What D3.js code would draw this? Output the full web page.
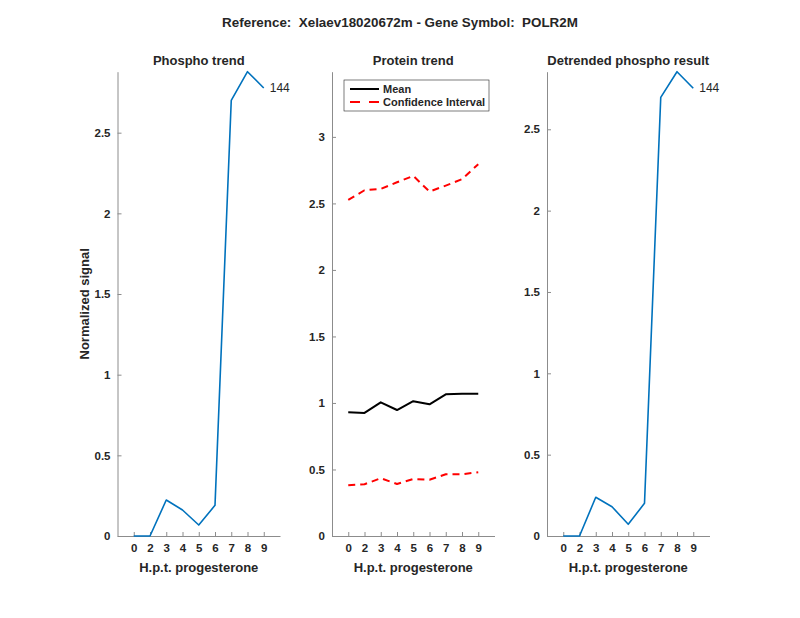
<!DOCTYPE html>
<html>
<head>
<meta charset="utf-8">
<script src="https://cdn.jsdelivr.net/npm/d3@7/dist/d3.min.js"></script>
<style>
  body { margin: 0; background: #fff; }
  text { font-family: "Liberation Sans", Arial, Helvetica, sans-serif; fill: #262626; }
</style>
</head>
<body>
<div id="chart"></div>
<script>
// time points (h post progesterone), shown as categories 1..9
var timeLabels = ['0', '2', '3', '4', '5', '6', '7', '8', '9'];
var phospho = [0, 0, 0.223, 0.161, 0.068, 0.19, 2.70, 2.878, 2.777];
var proteinMean = [0.93, 0.925, 1.005, 0.947, 1.013, 0.99, 1.065, 1.07, 1.07];
var ciUpper = [2.526, 2.599, 2.609, 2.659, 2.707, 2.589, 2.634, 2.682, 2.795];
var ciLower = [0.381, 0.389, 0.434, 0.391, 0.429, 0.423, 0.464, 0.464, 0.479];
var detrended = [0, 0, 0.238, 0.18, 0.072, 0.201, 2.696, 2.854, 2.752];
var yTicks = [0, 0.5, 1, 1.5, 2, 2.5, 3];
var peptideId = '144';

(function () {
  var W = 800, H = 618;
  var yTop = 71.7, yBot = 536, pw = 162.5;
  var svg = d3.select('#chart').append('svg').attr('width', W).attr('height', H);

  svg.append('text').attr('x', 400).attr('y', 27).attr('text-anchor', 'middle')
    .attr('font-size', 13.4).attr('font-weight', 'bold').style('white-space', 'pre')
    .text('Reference:  Xelaev18020672m - Gene Symbol:  POLR2M');

  function panel(x0, title, ymax) {
    var g = svg.append('g').attr('transform', 'translate(' + x0 + ',0)');
    var x = d3.scaleLinear().domain([0, 10]).range([0, pw]);
    var y = d3.scaleLinear().domain([0, ymax]).range([yBot, yTop]);

    var xa = g.append('g').attr('transform', 'translate(0,' + yBot + ')')
      .call(d3.axisBottom(x).tickValues(d3.range(1, 10)).tickSizeInner(-4).tickSizeOuter(0)
        .tickPadding(8).tickFormat(function (d) { return timeLabels[d - 1]; }));
    var ya = g.append('g')
      .call(d3.axisLeft(y).tickValues(yTicks.filter(function (t) { return t <= ymax; }))
        .tickSizeInner(-4).tickSizeOuter(0).tickPadding(7).tickFormat(d3.format('')));
    [xa, ya].forEach(function (a) {
      a.select('.domain').attr('stroke', '#8c8c8c');
      a.selectAll('.tick line').attr('stroke', '#8c8c8c');
      a.selectAll('.tick text').attr('font-size', 11.5).attr('font-weight', 'bold')
        .attr('fill', '#262626').style('font-family', '"Liberation Sans", Arial, sans-serif');
    });

    g.append('text').attr('x', pw / 2).attr('y', 65).attr('text-anchor', 'middle')
      .attr('font-size', 13).attr('font-weight', 'bold').text(title);
    g.append('text').attr('x', pw / 2).attr('y', 572).attr('text-anchor', 'middle')
      .attr('font-size', 13).attr('font-weight', 'bold').text('H.p.t. progesterone');
    return { g: g, x: x, y: y };
  }

  function drawLine(p, vals, color, width, dash) {
    var line = d3.line().x(function (d, i) { return p.x(i + 1); }).y(function (d) { return p.y(d); });
    var path = p.g.append('path').datum(vals).attr('d', line)
      .attr('fill', 'none').attr('stroke', color).attr('stroke-width', width)
      .attr('stroke-linejoin', 'round');
    if (dash) path.attr('stroke-dasharray', dash);
  }

  function idLabel(p, vals) {
    p.g.append('text').attr('x', p.x(9) + 6).attr('y', p.y(vals[8]) + 4)
      .attr('font-size', 12).text(peptideId);
  }

  // Phospho trend
  var p1 = panel(117.5, 'Phospho trend', d3.max(phospho));
  drawLine(p1, phospho, '#0072bd', 1.6);
  idLabel(p1, phospho);
  p1.g.append('text').attr('transform', 'translate(-29,' + ((yTop + yBot) / 2) + ') rotate(-90)')
    .attr('text-anchor', 'middle').attr('font-size', 13).attr('font-weight', 'bold')
    .text('Normalized signal');

  // Protein trend
  var p2 = panel(332, 'Protein trend', 3.49);
  drawLine(p2, proteinMean, '#000', 2);
  drawLine(p2, ciUpper, '#ff0000', 2, '7,5');
  drawLine(p2, ciLower, '#ff0000', 2, '7,5');

  var lg = p2.g.append('g').attr('transform', 'translate(12,80)');
  lg.append('rect').attr('width', 145).attr('height', 31).attr('fill', '#fff')
    .attr('stroke', '#262626').attr('stroke-width', 0.6);
  lg.append('line').attr('x1', 6).attr('x2', 35).attr('y1', 9).attr('y2', 9)
    .attr('stroke', '#000').attr('stroke-width', 2);
  lg.append('line').attr('x1', 6).attr('x2', 35).attr('y1', 22).attr('y2', 22)
    .attr('stroke', '#ff0000').attr('stroke-width', 2).attr('stroke-dasharray', '10,9');
  lg.append('text').attr('x', 39).attr('y', 13).attr('font-size', 11).attr('font-weight', 'bold').text('Mean');
  lg.append('text').attr('x', 39).attr('y', 26).attr('font-size', 11).attr('font-weight', 'bold').text('Confidence Interval');

  // Detrended
  var p3 = panel(547, 'Detrended phospho result', d3.max(detrended));
  drawLine(p3, detrended, '#0072bd', 1.6);
  idLabel(p3, detrended);
})();
</script>
</body>
</html>
